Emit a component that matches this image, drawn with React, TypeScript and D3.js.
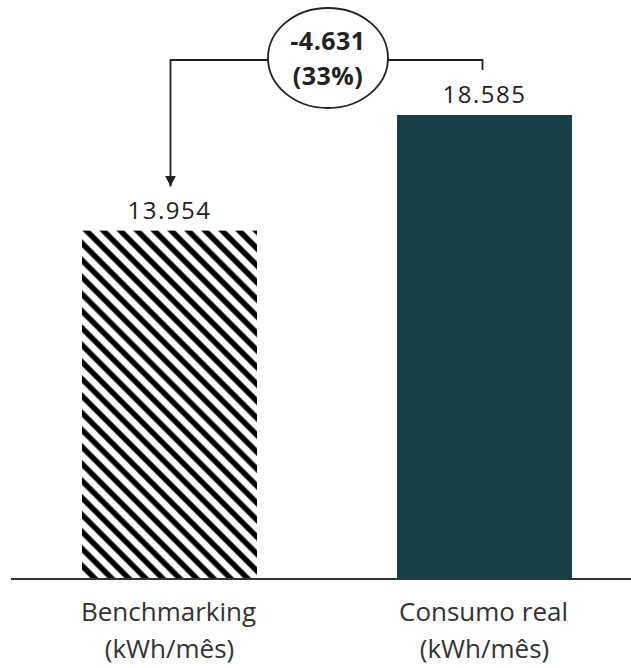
import React from "react";
import * as d3 from "d3";

const categories = ["Benchmarking", "Consumo real"];
const unitLabels = ["(kWh/mês)", "(kWh/mês)"];
const values = [13954, 18585];
const valueLabels = ["13.954", "18.585"];
const diffLabel = ["-4.631", "(33%)"];

const W = 631;
const H = 668;
const baseY = 579;

export default function App() {
  const y = d3.scaleLinear().domain([0, 18585]).range([baseY, 115]);
  const bw = 175;
  const pos = [82, 397];
  const cx = pos.map((p) => p + bw / 2);
  const ex = 328, ey = 58, rx = 60, ry = 50;
  const lineY = 60;
  const font = "'Open Sans', sans-serif";
  return (
    <svg width={W} height={H} style={{ display: "block", position: "absolute", left: 0, top: 0 }}>
      <defs>
        <pattern id="hatch" patternUnits="userSpaceOnUse" width={12} height={12} patternTransform="rotate(45)">
          <rect width={12} height={12} fill="#fff" />
          <line x1={0} y1={6} x2={12} y2={6} stroke="#000" strokeWidth={5.5} />
        </pattern>
        <marker id="arr" viewBox="0 0 10 10" refX={10} refY={5} markerWidth={11} markerHeight={11} markerUnits="userSpaceOnUse" orient="auto">
          <path d="M0,0 L10,5 L0,10 Z" fill="#222" />
        </marker>
      </defs>
      <rect width={W} height={H} fill="#fff" />
      {values.map((v, i) => (
        <rect key={i} x={pos[i]} y={y(v)} width={bw} height={baseY - y(v)} fill={i === 0 ? "url(#hatch)" : "#173f48"} />
      ))}
      <line x1={11} x2={W} y1={baseY} y2={baseY} stroke="#333" strokeWidth={2} />
      {values.map((v, i) => (
        <text key={"v" + i} x={cx[i]} y={y(v) - 12} textAnchor="middle" fontFamily={font} fontSize={24} fill="#222" letterSpacing={1.5}>
          {valueLabels[i]}
        </text>
      ))}
      {categories.map((c, i) => (
        <g key={"c" + i} fontFamily={font} fontSize={26} fill="#333" textAnchor="middle">
          <text x={cx[i] - 1} y={621}>{c}</text>
          <text x={cx[i]} y={658}>{unitLabels[i]}</text>
        </g>
      ))}
      <path d={`M${cx[1] - 2},${y(values[1]) - 45} V${lineY} H${ex + rx}`} fill="none" stroke="#222" strokeWidth={1.8} />
      <path d={`M${ex - rx},${lineY} H${cx[0] + 1} V${y(values[0]) - 44}`} fill="none" stroke="#222" strokeWidth={1.8} markerEnd="url(#arr)" />
      <ellipse cx={ex} cy={ey} rx={rx} ry={ry} fill="#fff" stroke="#222" strokeWidth={1.8} />
      <text x={ex} y={50} textAnchor="middle" fontFamily={font} fontWeight="bold" fontSize={25} fill="#222" letterSpacing={0.5}>{diffLabel[0]}</text>
      <text x={ex} y={85} textAnchor="middle" fontFamily={font} fontWeight="bold" fontSize={25} fill="#222" letterSpacing={0.5}>{diffLabel[1]}</text>
    </svg>
  );
}
